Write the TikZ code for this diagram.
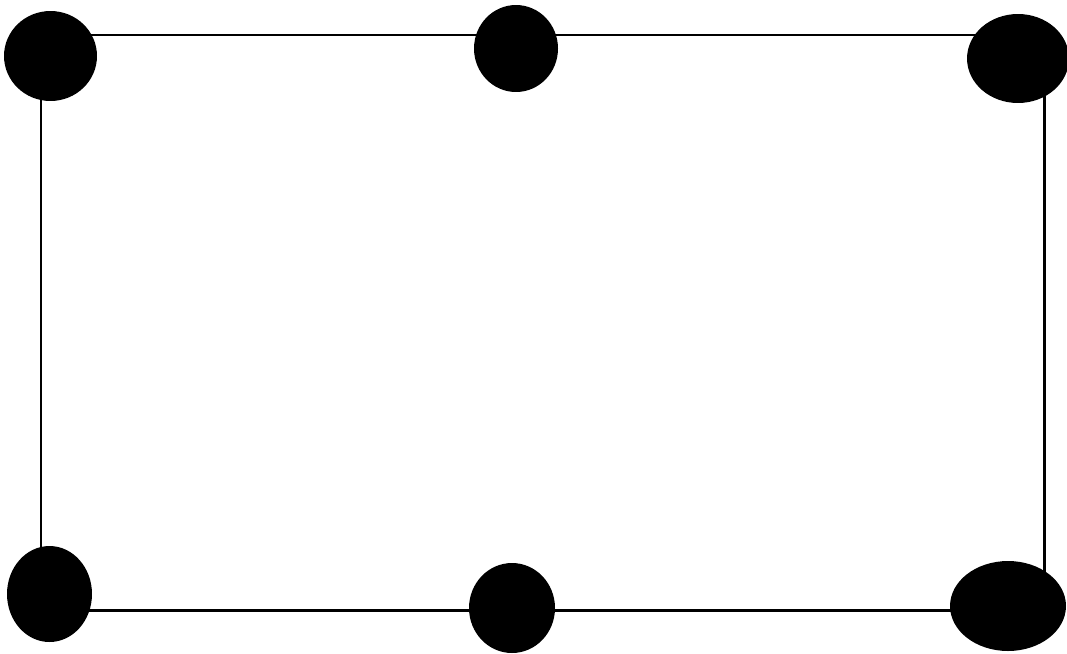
\documentclass[tikz,border=0pt]{standalone}
\usepackage{tikz}
\usetikzlibrary{shapes.geometric}

\tikzset{
  frame/.style={line width=1.7pt,black},
  blob/.style 2 args={ellipse,fill=black,draw=none,inner sep=0pt,
    minimum width=#1,minimum height=#2}
}

\begin{document}
\begin{tikzpicture}[x=0.02cm,y=-0.02cm]
  \useasboundingbox (0,0) rectangle (1067,653);
  \clip (0,0) rectangle (1067,653);
  % corners of the frame
  \coordinate (tl) at (41,35);
  \coordinate (tr) at (1044,35);
  \coordinate (br) at (1044,610);
  \coordinate (bl) at (41,610);
  \draw[frame] (tl) -- (tr) -- (br) -- (bl) -- cycle;
  % the six blobs
  \node[blob={1.86cm}{1.80cm}] (topleft)  at (50.5,56) {};
  \node[blob={1.68cm}{1.74cm}] (topmid)   at (516,48.5) {};
  \node[blob={2.04cm}{1.78cm}] (topright) at (1018,58.5) {};
  \node[blob={1.70cm}{1.92cm}] (botleft)  at (49.5,594) {};
  \node[blob={1.72cm}{1.80cm}] (botmid)   at (512,608) {};
  \node[blob={2.32cm}{1.80cm}] (botright) at (1008,606) {};
\end{tikzpicture}
\end{document}
